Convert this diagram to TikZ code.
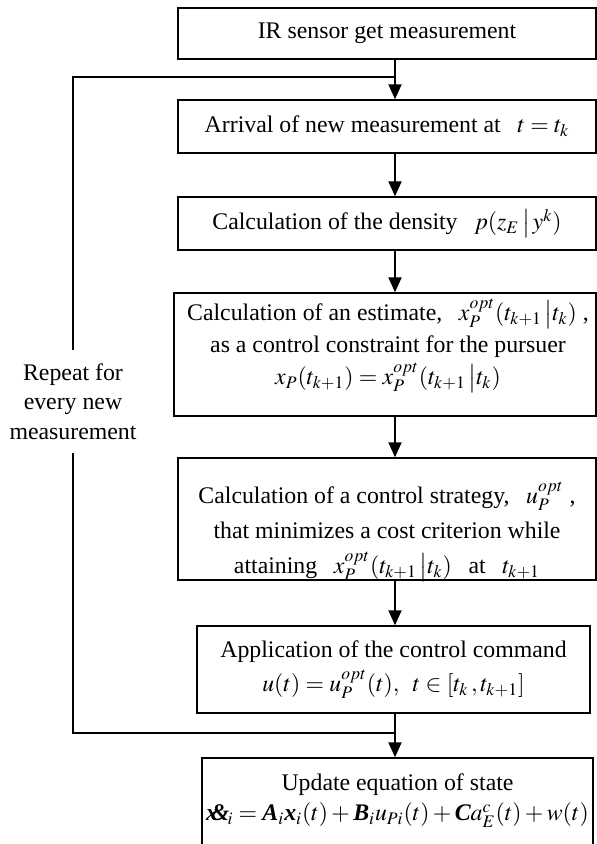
\documentclass[tikz,border=0pt]{standalone}
\usepackage{mathptmx}
\usepackage[no-math]{fontspec}
\setmainfont{Liberation Serif}
\usetikzlibrary{arrows.meta}
\newcommand\bxi[1]{\mbox{\bfseries\itshape #1}}
\newcommand\mygap{\hspace{0.7em}}
\begin{document}
\begin{tikzpicture}[x=0.5pt,y=-0.5pt,
  box/.style={draw, line width=0.7pt, inner sep=0pt, align=center, font=\fontsize{11.9}{16}\selectfont},
  txt/.style={inner sep=0pt, align=center, font=\fontsize{11.9}{16}\selectfont},
  arr/.style={line width=1pt, -{Triangle[length=7.5pt,width=6.5pt]}},
  ln/.style={line width=1pt}]
\useasboundingbox (0,0) rectangle (597,844);
\fill[white] (0,0) rectangle (597,844);
\node[box, minimum width=209pt, minimum height=25.5pt] (b1) at (387,33.5) {IR sensor get measurement};
\node[box, minimum width=209pt, minimum height=26.5pt] (b2) at (387,126.5) {Arrival of new measurement at\mygap$t=t_k$};
\node[box, minimum width=209pt, minimum height=26.5pt] (b3) at (387,223.5) {Calculation of the density\mygap$p(z_E\,\big|\,y^k)$};
\node[box, minimum width=211pt, minimum height=61.5pt] (b4) at (385,354.5) {};
\node[txt] (b4t) at (388,346) {Calculation of an estimate,\mygap$x_P^{opt}(t_{k+1}\,\big|t_k)$ ,\\ as a control constraint for the pursuer\\ $x_P(t_{k+1}) = x_P^{opt}(t_{k+1}\,\big|t_k)$};
\node[box, minimum width=209pt, minimum height=61pt] (b5) at (387,519) {};
\node[txt, font=\fontsize{11.9}{17.5}\selectfont] (b5t) at (387,532) {Calculation of a control strategy,\mygap$u_P^{opt}$ ,\\ that minimizes a cost criterion while\\ attaining\mygap$x_P^{opt}(t_{k+1}\,\big|t_k)$\mygap at\mygap$t_{k+1}$};
\node[box, minimum width=196.5pt, minimum height=43.5pt, font=\fontsize{11.9}{17}\selectfont] (b6) at (393.5,669.5) {Application of the control command\\ $u(t) = u_P^{opt}(t),\;\; t\in[t_k\,,t_{k+1}]$};
\node[box, minimum width=195.5pt, minimum height=46pt] (b7) at (397.5,804) {};
\node[txt, font=\fontsize{11.9}{15}\selectfont] (b7t) at (397.5,801) {Update equation of state\\ $\bxi{x\kern-0.3em\&}_{\!i} = \bxi{A}_i\bxi{x}_i(t) + \bxi{B}_i u_{Pi}(t) + \bxi{C}a_E^c(t) + w(t)$};
\coordinate (j1) at (395,77);
\coordinate (j2) at (395,733);
\node[txt, minimum height=51.5pt, font=\fontsize{11.9}{14.75}\selectfont] (lab) at (73,401.5) {Repeat for\\every new\\measurement};
\draw[arr] (b1.south -| j1) -- (b2.north -| j1);
\draw[arr] (b2.south -| j1) -- (b3.north -| j1);
\draw[arr] (b3.south -| j1) -- (b4.north -| j1);
\draw[arr] (b4.south -| j1) -- (b5.north -| j1);
\draw[arr] (b5.south -| j1) -- (b6.north -| j1);
\draw[arr] (b6.south -| j2) -- (b7.north -| j2);
\draw[ln] (j2) -| (lab.south);
\draw[ln] (lab.north) |- (j1);
\end{tikzpicture}
\end{document}
